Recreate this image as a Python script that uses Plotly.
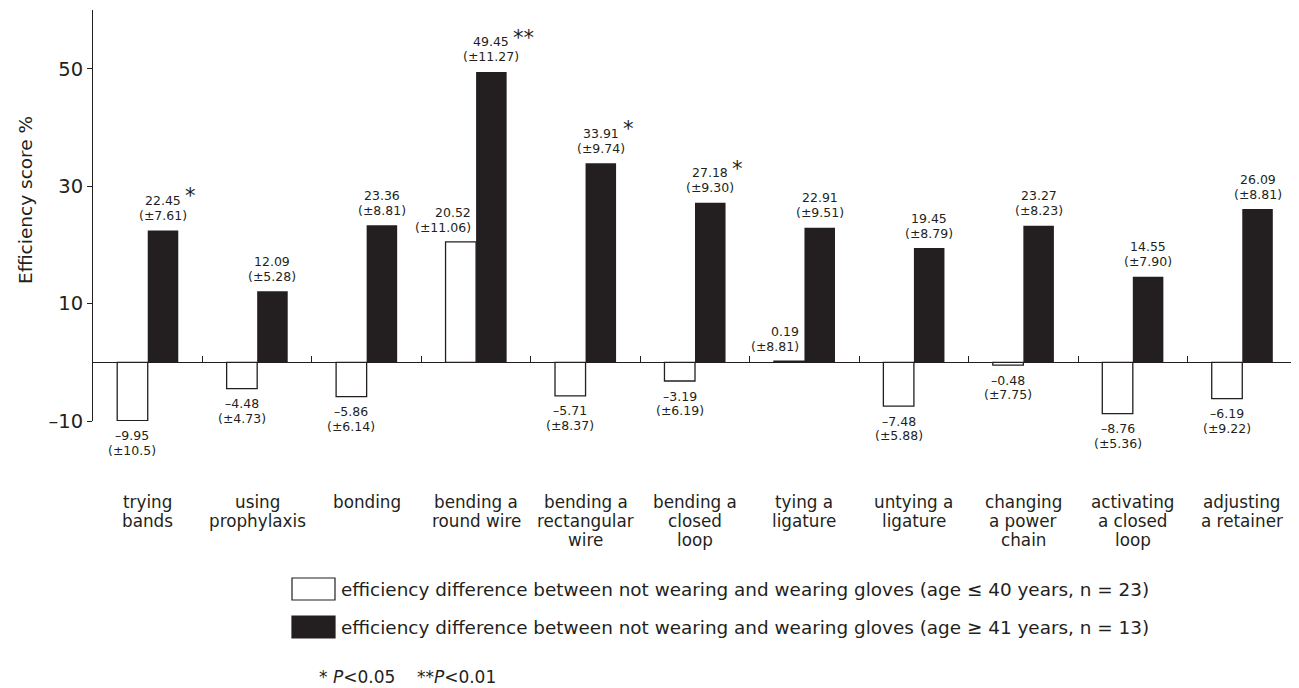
import plotly.graph_objects as go

categories = [["trying", "bands"], ["using", "prophylaxis"], ["bonding"], ["bending a", "round wire"],
              ["bending a", "rectangular", "wire"], ["bending a", "closed", "loop"], ["tying a", "ligature"],
              ["untying a", "ligature"], ["changing", "a power", "chain"], ["activating", "a closed", "loop"],
              ["adjusting", "a retainer"]]
young_mean = [-9.95, -4.48, -5.86, 20.52, -5.71, -3.19, 0.19, -7.48, -0.48, -8.76, -6.19]
young_sd = ["10.5", "4.73", "6.14", "11.06", "8.37", "6.19", "8.81", "5.88", "7.75", "5.36", "9.22"]
old_mean = [22.45, 12.09, 23.36, 49.45, 33.91, 27.18, 22.91, 19.45, 23.27, 14.55, 26.09]
old_sd = ["7.61", "5.28", "8.81", "11.27", "9.74", "9.30", "9.51", "8.79", "8.23", "7.90", "8.81"]
old_sig = ["*", "", "", "**", "*", "*", "", "", "", "", ""]
yticks = [-10, 10, 30, 50]

legend_young = "efficiency difference between not wearing and wearing gloves (age ≤ 40 years, n = 23)"
legend_old = "efficiency difference between not wearing and wearing gloves (age ≥ 41 years, n = 13)"

INK = "#231f20"
FONT = "DejaVu Sans, Verdana, sans-serif"

# page offset (body margin) and plot box in page pixels
OFF = 8
PL, PT, PR, PB = 93, 10, 1297, 421
W, H = 1291, 680
L, T = PL - OFF, PT - OFF
R, B = W - (PR - OFF), H - (PB - OFF)
PW, PH = PR - PL, PB - PT


def px(xp):
    return (xp - PL) / PW


def py(yp):
    return (PB - yp) / PH


x = list(range(len(categories)))
BW = 0.279

fig = go.Figure()
fig.add_trace(go.Bar(x=x, y=young_mean, width=BW, offset=-BW,
                     marker=dict(color="white", line=dict(color=INK, width=1.3)),
                     showlegend=False, hoverinfo="skip"))
fig.add_trace(go.Bar(x=x, y=old_mean, width=BW, offset=0,
                     marker=dict(color=INK, line=dict(color=INK, width=0)),
                     showlegend=False, hoverinfo="skip"))


def fmt(v):
    return f"{v:.2f}".replace("-", "–")


VF = dict(size=12.5, color=INK, family=FONT)
ann = []


def label(xv, yv, text, xanchor, yshift, xshift=0, font=VF, yref="y"):
    ann.append(dict(x=xv, y=yv, text=text, xref="x", yref=yref, showarrow=False,
                    xanchor=xanchor, yanchor="middle", xshift=xshift, yshift=yshift, font=font))


for i in x:
    v = young_mean[i]
    if v < 0:
        label(i - BW / 2, v, fmt(v), "center", -15)
        label(i - BW / 2, v, f"(±{young_sd[i]})", "center", -29.5)
    else:
        label(i, v, fmt(v), "right", 29.5, xshift=-3)
        label(i, v, f"(±{young_sd[i]})", "right", 14.5, xshift=-3)
    v = old_mean[i]
    label(i + BW / 2, v, fmt(v), "center", 30)
    label(i + BW / 2, v, f"(±{old_sd[i]})", "center", 15)
    if old_sig[i]:
        label(i + BW / 2, v, old_sig[i], "left", 34, xshift=20,
              font=dict(size=21, color=INK, family=FONT))
    for k, line in enumerate(categories[i]):
        label(i, 0, line, "center", -(502 + 19 * k - PB), font=dict(size=16.8, color=INK, family=FONT),
              yref="paper")

# y-axis title
ann.append(dict(x=px(25), y=py(200), xref="paper", yref="paper", text="Efficiency score %",
                textangle=-90, showarrow=False, xanchor="center", yanchor="middle",
                font=dict(size=18.5, color=INK, family=FONT)))

# legend
shapes = [
    dict(type="rect", xref="paper", yref="paper", x0=px(292), x1=px(335), y0=py(600), y1=py(578),
         line=dict(color=INK, width=1.2), fillcolor="white"),
    dict(type="rect", xref="paper", yref="paper", x0=px(292), x1=px(335), y0=py(638), y1=py(616),
         line=dict(color=INK, width=1.2), fillcolor=INK),
]
LF = dict(size=18.4, color=INK, family=FONT)
ann.append(dict(x=px(339), y=py(589), xref="paper", yref="paper", text=legend_young, showarrow=False,
                xanchor="left", yanchor="middle", font=LF))
ann.append(dict(x=px(339), y=py(627), xref="paper", yref="paper", text=legend_old, showarrow=False,
                xanchor="left", yanchor="middle", font=LF))
ann.append(dict(x=px(317), y=py(677), xref="paper", yref="paper",
                text="* <i>P</i><0.05    **<i>P</i><0.01", showarrow=False,
                xanchor="left", yanchor="middle", font=dict(size=17, color=INK, family=FONT)))

fig.update_layout(
    width=W, height=H, margin=dict(l=L, r=R, t=T, b=B, autoexpand=False),
    paper_bgcolor="white", plot_bgcolor="white",
    barmode="overlay",
    font=dict(family=FONT, color=INK),
    annotations=ann, shapes=shapes,
    xaxis=dict(range=[-0.5, len(categories) - 0.5], tickmode="array",
               tickvals=[i - 0.5 for i in range(len(categories) + 1)],
               ticks="inside", ticklen=6, tickcolor=INK, tickwidth=1,
               showticklabels=False, showline=False, showgrid=False, zeroline=False,
               anchor="free", position=(0 - (-10)) / 70),
    yaxis=dict(range=[-10, 60], tickvals=yticks, ticktext=["–10", "10", "30", "50"],
               ticks="outside", ticklen=5, tickcolor=INK,
               showline=True, linecolor=INK, linewidth=1, showgrid=False,
               zeroline=True, zerolinecolor=INK, zerolinewidth=1,
               tickfont=dict(size=19.5, color=INK, family=FONT)),
)

fig.write_html("out.html")
